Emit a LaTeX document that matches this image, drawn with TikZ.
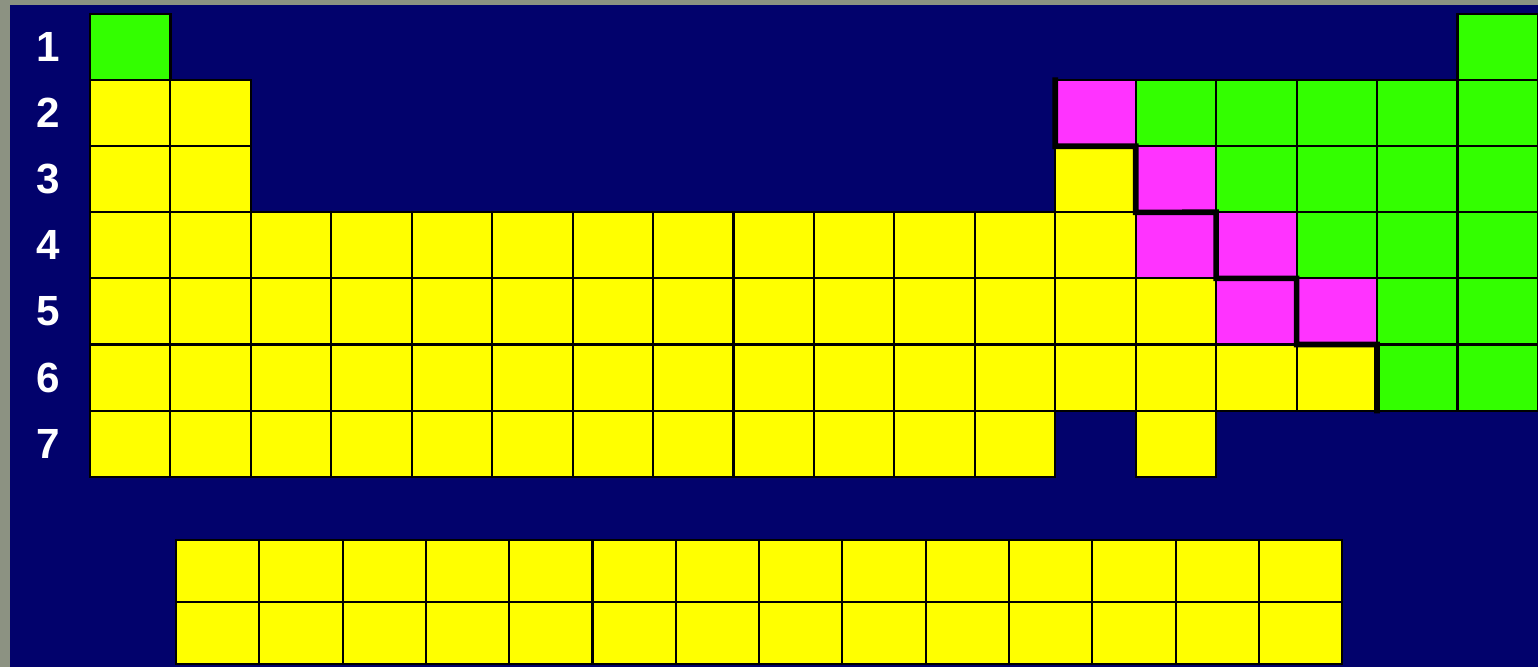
\documentclass[tikz,border=0pt]{standalone}
\usepackage{fontspec}
\setmainfont{Liberation Sans}
\definecolor{rahmen}{RGB}{140,146,130}
\definecolor{grund}{RGB}{2,2,108}
\definecolor{gelb}{RGB}{255,255,0}
\definecolor{gruen}{RGB}{51,255,0}
\definecolor{pink}{RGB}{255,51,255}
\begin{document}
\begin{tikzpicture}[
      x=0.01cm, y=-0.01cm,
      zelle/.style={draw=black, line width=0.6pt, outer sep=0pt, inner sep=0pt,
        anchor=north west, minimum width=0.8044cm, minimum height=0.661cm},
      metall/.style={zelle, fill=gelb},
      halbmetall/.style={zelle, fill=pink},
      nichtmetall/.style={zelle, fill=gruen},
      serie/.style={draw=black, line width=0.6pt, outer sep=0pt, inner sep=0pt,
        anchor=north west, minimum width=0.833cm, minimum height=0.62cm, fill=gelb},
      nummer/.style={text=white, font=\fontsize{12}{14}\selectfont\bfseries},
      grenze/.style={line width=1.6pt, line cap=rect}
    ]
      \useasboundingbox (0,0) rectangle (1538,667);
      \fill[rahmen] (0,0) rectangle (1538,667);
      \fill[grund] (10,5) rectangle (1538,667);
      % Periodennummern
      \foreach \r in {1,...,7}
        \node[nummer] (n\r) at (48,{14+(\r-0.5)*66.1}) {\r};
      % Periode 1
      \foreach \c in {1,18}
        \node[nichtmetall] (z1-\c) at ({90+(\c-1)*80.44},14) {};
      % Periode 2
      \foreach \c in {1,2}
        \node[metall] (z2-\c) at ({90+(\c-1)*80.44},{14+66.1}) {};
      \node[halbmetall] (z2-13) at ({90+12*80.44},{14+66.1}) {};
      \foreach \c in {14,...,18}
        \node[nichtmetall] (z2-\c) at ({90+(\c-1)*80.44},{14+66.1}) {};
      % Periode 3
      \foreach \c in {1,2,13}
        \node[metall] (z3-\c) at ({90+(\c-1)*80.44},{14+2*66.1}) {};
      \node[halbmetall] (z3-14) at ({90+13*80.44},{14+2*66.1}) {};
      \foreach \c in {15,...,18}
        \node[nichtmetall] (z3-\c) at ({90+(\c-1)*80.44},{14+2*66.1}) {};
      % Periode 4
      \foreach \c in {1,...,13}
        \node[metall] (z4-\c) at ({90+(\c-1)*80.44},{14+3*66.1}) {};
      \foreach \c in {14,15}
        \node[halbmetall] (z4-\c) at ({90+(\c-1)*80.44},{14+3*66.1}) {};
      \foreach \c in {16,17,18}
        \node[nichtmetall] (z4-\c) at ({90+(\c-1)*80.44},{14+3*66.1}) {};
      % Periode 5
      \foreach \c in {1,...,14}
        \node[metall] (z5-\c) at ({90+(\c-1)*80.44},{14+4*66.1}) {};
      \foreach \c in {15,16}
        \node[halbmetall] (z5-\c) at ({90+(\c-1)*80.44},{14+4*66.1}) {};
      \foreach \c in {17,18}
        \node[nichtmetall] (z5-\c) at ({90+(\c-1)*80.44},{14+4*66.1}) {};
      % Periode 6
      \foreach \c in {1,...,16}
        \node[metall] (z6-\c) at ({90+(\c-1)*80.44},{14+5*66.1}) {};
      \foreach \c in {17,18}
        \node[nichtmetall] (z6-\c) at ({90+(\c-1)*80.44},{14+5*66.1}) {};
      % Periode 7
      \foreach \c in {1,...,12,14}
        \node[metall] (z7-\c) at ({90+(\c-1)*80.44},{14+6*66.1}) {};
      % Lanthanoide und Actinoide
      \foreach \r in {1,2}
        \foreach \c in {1,...,14}
          \node[serie] (f\r-\c) at ({176+(\c-1)*83.3},{540+(\r-1)*62}) {};
      % Treppenlinie
      \draw[grenze] (z2-13.north west) -- (z2-13.south west) -- (z3-14.north west)
        -- (z3-14.south west) -- (z4-15.north west) -- (z4-15.south west)
        -- (z5-16.north west) -- (z5-16.south west) -- (z6-17.north west)
        -- (z6-17.south west);
    \end{tikzpicture}
\end{document}
